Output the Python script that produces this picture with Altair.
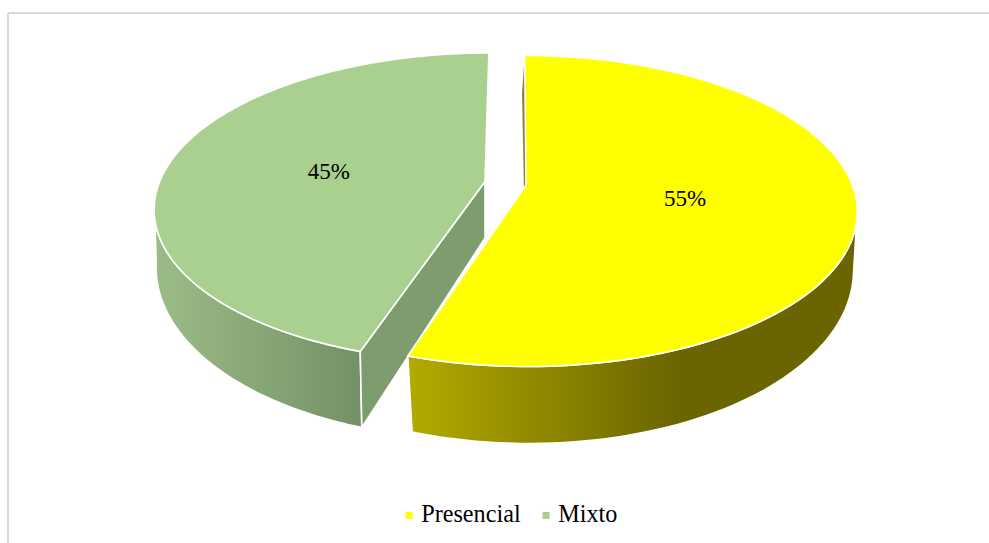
import altair as alt
import numpy as np
import pandas as pd

# Survey shares, drawn clockwise from twelve o'clock
categories = ["Presencial", "Mixto"]
shares = [55, 45]
colors = ["#ffff00", "#a9d08e"]

W, H = 989, 543
SERIF = "Liberation Serif"


def disc_point(theta_deg, radius, apex, rx, ry, rise, shear):
    """Project a point of the tilted pie disc, with perspective, onto the canvas."""
    th = np.radians(theta_deg)
    u, v = radius * np.sin(th), -radius * np.cos(th)
    c = -rise / ry
    d = rx * np.sqrt(1 - c * c)
    den = 1 + c * v
    yc = (ry * v - rise) / den + rise  # measured from the apex
    xc = d * u / den + shear * yc
    return apex[0] + xc, apex[1] + yc


def arc(t0, t1, n, **disc):
    return [disc_point(t, 1.0, **disc) for t in np.linspace(t0, t1, n)]


def polygon(points):
    pts = list(points) + [points[0]]
    return pd.DataFrame({"x": [p[0] for p in pts], "y": [p[1] for p in pts], "i": range(len(pts))})


x_scale = alt.Scale(domain=[0, W], range=[0, W], nice=False, zero=False)
y_scale = alt.Scale(domain=[0, H], range=[0, H], nice=False, zero=False)


def face(points, fill, width=1.6):
    return alt.Chart(polygon(points)).mark_line(
        fill=fill, stroke="white", strokeWidth=width, strokeJoin="miter", clip=False
    ).encode(
        x=alt.X("x:Q", scale=x_scale, axis=None),
        y=alt.Y("y:Q", scale=y_scale, axis=None),
        order="i:Q",
    )


def side_gradient(stops):
    return alt.Gradient(
        gradient="linear", x1=0, x2=1, y1=0, y2=0,
        stops=[alt.GradientStop(offset=o, color=c) for o, c in stops],
    )


# Slice boundaries in degrees, from the shares
split = 360 * shares[0] / sum(shares)

# The two exploded slices, upper and lower discs
yellow_top = dict(apex=(526, 185), rx=331, ry=155.5, rise=26, shear=0.01)
yellow_low = dict(apex=(525, 242.5), rx=328, ry=175, rise=26, shear=0.02)
green_top = dict(apex=(485, 181.5), rx=330, ry=154.5, rise=26, shear=-0.03)
green_low = dict(apex=(485, 238), rx=328, ry=175, rise=26, shear=-0.034)

layers = []

# Frame of the chart area
frame = "#d9d9d9"
layers.append(alt.Chart(pd.DataFrame({"a": [0]})).mark_rule(color=frame, strokeWidth=2).encode(
    x=alt.value(8), y=alt.value(13), y2=alt.value(H)))
layers.append(alt.Chart(pd.DataFrame({"a": [0]})).mark_rule(color=frame, strokeWidth=2).encode(
    x=alt.value(8), x2=alt.value(W), y=alt.value(13)))

# Mixto: outer wall, cut wall, top
green_wall = arc(split, 262, 60, **green_top) + arc(262, split, 60, **green_low)
layers.append(face(green_wall, side_gradient([(0, "#9cbc87"), (1, "#749166")])))
green_corner_top = disc_point(split, 1, **green_top)
green_corner_low = disc_point(split, 1, **green_low)
layers.append(face(
    [green_top["apex"], green_corner_top, green_corner_low, green_low["apex"]], "#7f9c6f"))
layers.append(face([green_top["apex"]] + arc(split, 360, 120, **green_top), colors[1]))

# Presencial: back cut wall, outer wall, top
layers.append(face(
    [disc_point(0, 1, **yellow_top), yellow_top["apex"], yellow_low["apex"], disc_point(0, 1, **yellow_low)],
    "#85853a", width=0))
yellow_wall = arc(split, 100, 60, **yellow_top) + arc(100, split, 60, **yellow_low)
layers.append(face(yellow_wall, side_gradient([(0, "#b3ab00"), (0.6, "#6a6500"), (1, "#6a6500")])))
layers.append(face([yellow_top["apex"]] + arc(0, split, 140, **yellow_top), colors[0]))

# Percentage labels placed part-way along each slice's bisector
mids = [split / 2, split + (360 - split) / 2]
discs = [yellow_top, green_top]
label_pts = [disc_point(m, 0.49, **d) for m, d in zip(mids, discs)]
labels = pd.DataFrame({
    "x": [p[0] for p in label_pts],
    "y": [p[1] for p in label_pts],
    "share": shares,
})
layers.append(alt.Chart(labels).transform_calculate(txt="datum.share + '%'").mark_text(
    font=SERIF, fontSize=23, color="black", align="center", baseline="middle", dy=2, dx=-1
).encode(
    x=alt.X("x:Q", scale=x_scale, axis=None),
    y=alt.Y("y:Q", scale=y_scale, axis=None),
    text="txt:N",
))

# Invisible points that carry the legend
legend_src = pd.DataFrame({"category": categories})
layers.append(alt.Chart(legend_src).mark_square(opacity=0, size=49).encode(
    x=alt.value(0), y=alt.value(0),
    color=alt.Color(
        "category:N",
        scale=alt.Scale(domain=categories, range=colors),
        legend=alt.Legend(
            title=None, orient="none", legendX=397, legendY=503, direction="horizontal",
            columns=2, symbolType="square", symbolSize=49, symbolOpacity=1,
            symbolStrokeWidth=0, labelFont=SERIF, labelFontSize=24.2, labelColor="black",
            labelOffset=0, columnPadding=13, labelLimit=300,
        ),
    ),
))

chart = alt.layer(*layers).resolve_scale(x="shared", y="shared").properties(
    width=W, height=H, padding=0, background="white",
    autosize=alt.AutoSizeParams(type="none"),
).configure_view(stroke=None)

chart.save("out.html", embed_options={"renderer": "svg", "actions": False})
